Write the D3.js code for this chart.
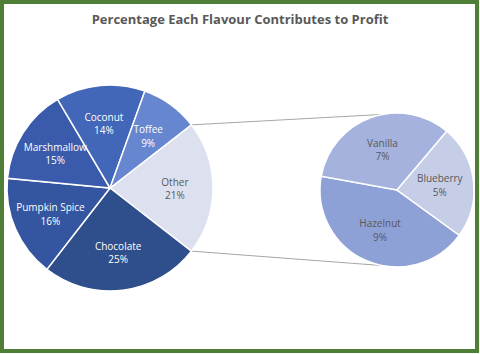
<!DOCTYPE html>
<html>
<head>
<meta charset="utf-8">
<script src="https://cdn.jsdelivr.net/npm/d3@7"></script>
<style>
  html, body { margin: 0; padding: 0; background: #fff; }
  #chart { width: 480px; height: 354px; }
  text { font-family: "Open Sans", "Noto Sans", sans-serif; }
</style>
</head>
<body>
<div id="chart"></div>
<script>
// main pie (clockwise from "Other")
var mainLabels = ["Other", "Chocolate", "Pumpkin Spice", "Marshmallow", "Coconut", "Toffee"];
var mainValues = [21, 25, 16, 15, 14, 9];
var mainColors = ["#dde1ef", "#2f4e8c", "#34559f", "#3a5bab", "#4267b9", "#6686d0"];

// breakdown of "Other"
var subLabels = ["Hazelnut", "Vanilla", "Blueberry"];
var subValues = [9, 7, 5];
var subColors = ["#8ea1d7", "#a4b2dd", "#c6cde7"];

var titleText = "Percentage Each Flavour Contributes to Profit";

var W = 480, H = 354;
var svg = d3.select("#chart").append("svg")
    .attr("width", W)
    .attr("height", H);

// green frame
svg.append("rect")
    .attr("x", 2).attr("y", 2)
    .attr("width", W - 5).attr("height", H - 5)
    .attr("fill", "#fff")
    .attr("stroke", "#4f7f37")
    .attr("stroke-width", 4);

svg.append("text")
    .attr("x", 240).attr("y", 24)
    .attr("text-anchor", "middle")
    .attr("font-size", "13px")
    .attr("font-weight", "bold")
    .attr("fill", "#595959")
    .text(titleText);

var deg = Math.PI / 180;
var mainR = 103, subR = 77;
var mainC = [110, 188], subC = [397, 190];

// angles in degrees, clockwise from 12 o'clock
var otherSpan = mainValues[0] / d3.sum(mainValues) * 360;
var mainStart = 90 - otherSpan / 2;

var mainPie = d3.pie().sort(null).value(function(d){ return d; })
    .startAngle(mainStart * deg).endAngle((mainStart + 360) * deg);
var subPie = d3.pie().sort(null).value(function(d){ return d; })
    .startAngle(126 * deg).endAngle(486 * deg);

var mainArc = d3.arc().innerRadius(0).outerRadius(mainR);
var mainLabelArc = d3.arc().innerRadius(mainR * 0.63).outerRadius(mainR * 0.63);
var subArc = d3.arc().innerRadius(0).outerRadius(subR);
var subLabelArc = d3.arc().innerRadius(subR * 0.56).outerRadius(subR * 0.56);

// connector lines
var otherArc = mainPie(mainValues)[0];
function pt(c, r, a){ return [c[0] + r * Math.sin(a), c[1] - r * Math.cos(a)]; }
var connectors = [
    [pt(mainC, mainR, otherArc.startAngle), pt(subC, subR, -11 * deg)],
    [pt(mainC, mainR, otherArc.endAngle), pt(subC, subR, 191 * deg)]
];
svg.append("g").selectAll("line")
    .data(connectors)
    .enter().append("line")
    .attr("x1", function(d){ return d[0][0]; })
    .attr("y1", function(d){ return d[0][1]; })
    .attr("x2", function(d){ return d[1][0]; })
    .attr("y2", function(d){ return d[1][1]; })
    .attr("stroke", "#a6a6a6")
    .attr("stroke-width", 1);

function pct(v){ return v + "%"; }

function drawPie(g, data, labels, colors, arc, labelArc, darkText){
    g.selectAll("path")
        .data(data)
        .enter().append("path")
        .attr("d", arc)
        .attr("fill", function(d, i){ return colors[i]; })
        .attr("stroke", "#fff")
        .attr("stroke-width", 1.5);

    var t = g.selectAll("text.lbl")
        .data(data)
        .enter().append("text")
        .attr("class", "lbl")
        .attr("text-anchor", "middle")
        .attr("font-size", "10px")
        .attr("fill", function(d, i){ return darkText(i) ? "#595959" : "#fff"; })
        .attr("transform", function(d){ return "translate(" + labelArc.centroid(d) + ")"; });
    t.append("tspan").attr("x", 0).attr("dy", "-0.25em")
        .text(function(d, i){ return labels[i]; });
    t.append("tspan").attr("x", 0).attr("dy", "1.35em")
        .text(function(d){ return pct(d.data); });
}

var gMain = svg.append("g").attr("transform", "translate(" + mainC + ")");
drawPie(gMain, mainPie(mainValues), mainLabels, mainColors, mainArc, mainLabelArc,
    function(i){ return i === 0; });

var gSub = svg.append("g").attr("transform", "translate(" + subC + ")");
drawPie(gSub, subPie(subValues), subLabels, subColors, subArc, subLabelArc,
    function(){ return true; });
</script>
</body>
</html>
